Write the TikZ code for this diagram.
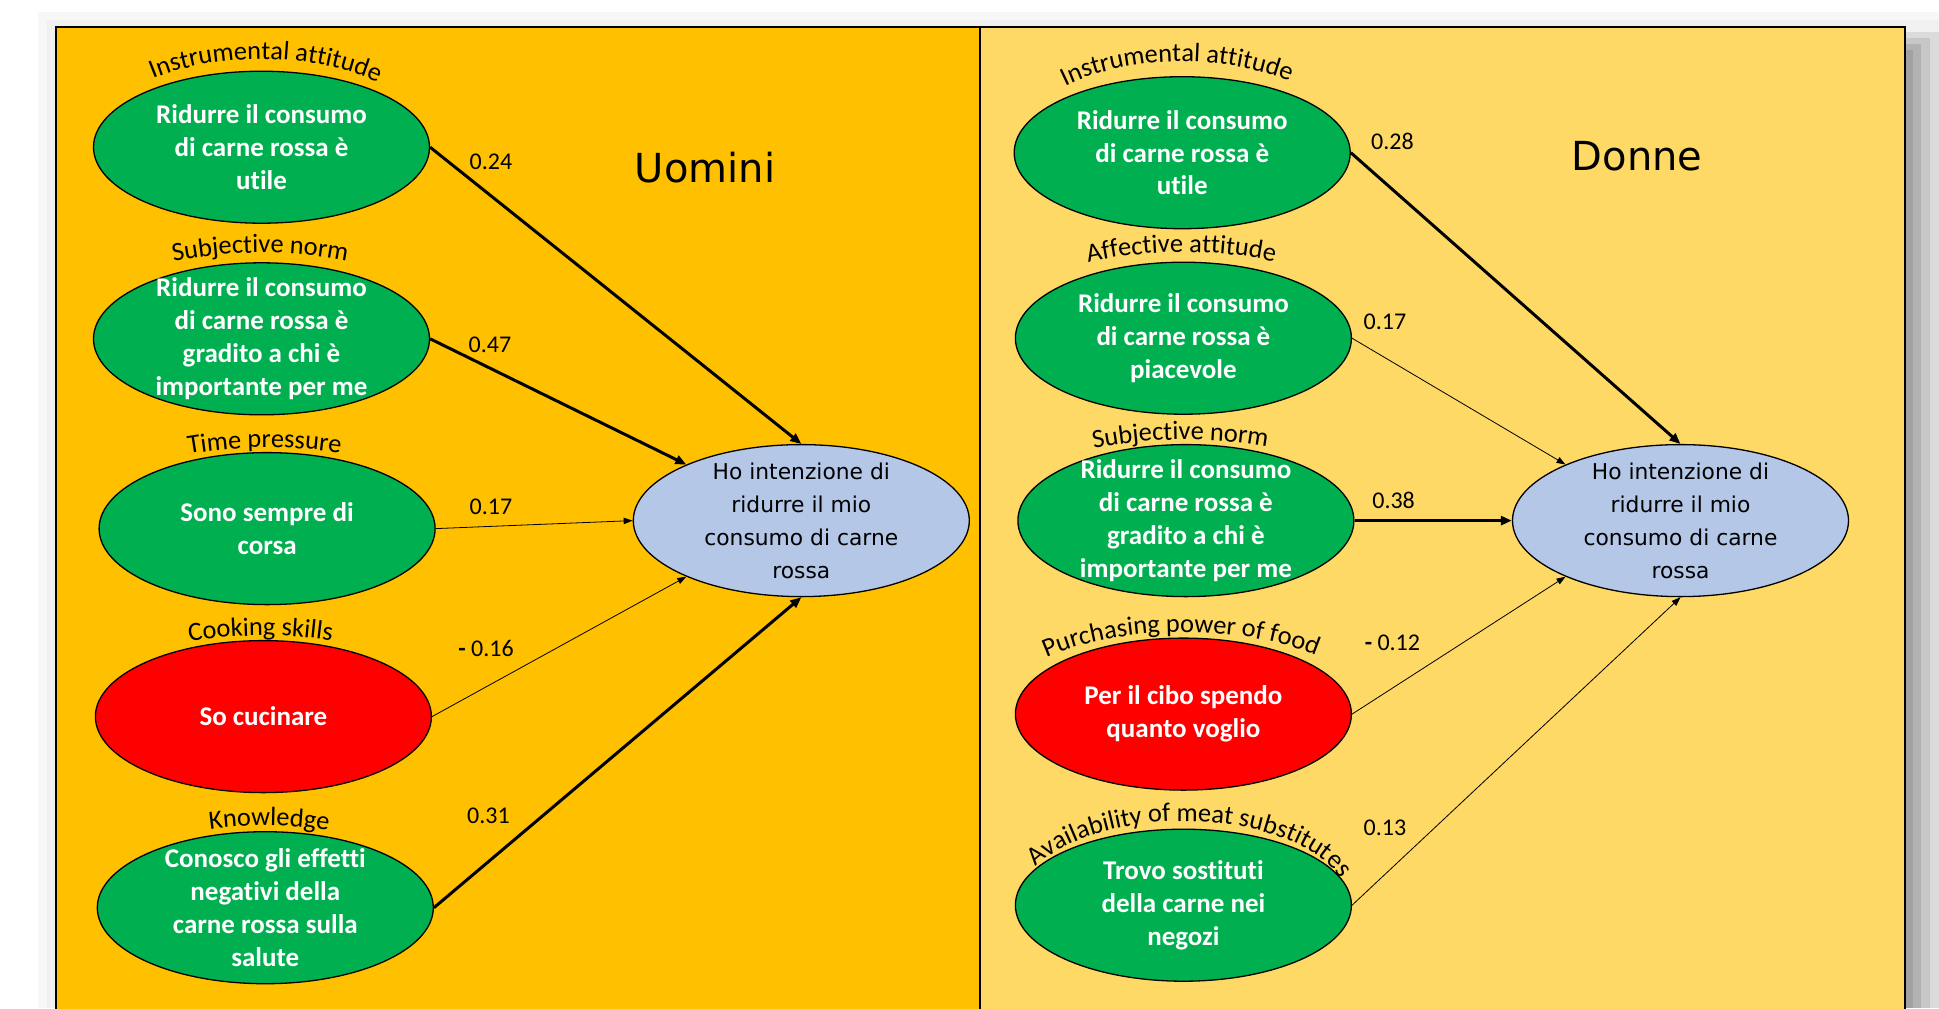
\documentclass[tikz,border=0pt]{standalone}
\usepackage{fontspec}
\setmainfont{Carlito}[Ligatures=NoCommon]
\newfontfamily\dvs{DejaVu Sans}
\usetikzlibrary{shapes.geometric,arrows.meta,decorations.text}
\definecolor{panelL}{HTML}{FFC000}
\definecolor{panelR}{HTML}{FFD966}
\definecolor{gfill}{HTML}{00B050}
\definecolor{rfill}{HTML}{FF0000}
\definecolor{bfill}{HTML}{B4C7E7}
\newcommand\labf{\fontsize{13.2}{15}\selectfont}
\newcommand\curvlab[6]{\path[decorate,decoration={text along path,text align=center,text={|\labf|#6}}] (#1) ++(#4:#2 and #3) arc[start angle=#4,end angle=#5,x radius=#2,y radius=#3];}
\tikzset{
  ell/.style={ellipse, draw=black, line width=0.65pt, minimum width=168pt, minimum height=76pt, inner sep=0pt},
  gell/.style={ell, fill=gfill},
  rell/.style={ell, fill=rfill},
  bell/.style={ell, fill=bfill},
  wtxt/.style={text=white, font=\bfseries\fontsize{13.5}{16.4}\selectfont, align=center, inner sep=0pt},
  btxt/.style={text=black, font=\dvs\fontsize{10.9}{16.5}\selectfont, align=center, inner sep=0pt},
  coef/.style={font=\fontsize{12}{14}\selectfont, inner sep=0pt},
  ttl/.style={font=\dvs\fontsize{20}{24}\selectfont, inner sep=0pt},
  thk/.style={line width=1.5pt, -{Triangle[length=5.5pt,width=4.5pt]}},
  thn/.style={line width=0.4pt, -{Triangle[length=4.5pt,width=3.2pt]}}
}
\begin{document}
\begin{tikzpicture}[x=0.5pt,y=0.5pt]
\useasboundingbox (0,0) rectangle (1939,-1008);
\clip (0,0) rectangle (1939,-1008);
% background and shadow
\fill[white] (0,0) rectangle (1939,-1008);
\fill[black!3] (38,-12) rectangle (1939,-1008);
\fill[black!6] (47,-20) rectangle (1939,-1008);
\fill[black!14] (1905,-32) rectangle (1939,-1008);
\fill[black!22] (1905,-38) rectangle (1930,-1008);
\fill[black!30] (1905,-44) rectangle (1921,-1008);
\fill[black!37] (1905,-50) rectangle (1913,-1008);
% panels
\fill[panelL] (55.6,-27) rectangle (980,-1020);
\fill[panelR] (980,-27) rectangle (1905,-1020);
\draw[line width=1pt] (55.6,-1020) -- (55.6,-27) -- (1905,-27) -- (1905,-1020);
\draw[line width=1pt] (980,-27) -- (980,-1020);
% titles
\node[ttl] (tu) at (705,-168) {Uomini};
\node[ttl] (td) at (1637,-156) {Donne};
% Uomini ellipses
\node[gell] (l1) at (261.5,-147.2) {};
\node[wtxt] (l1t) at (l1.center) {Ridurre il consumo\\di carne rossa è\\utile};
\node[gell] (l2) at (261.5,-338.8) {};
\node[wtxt] (l2t) at (l2.center) {Ridurre il consumo\\di carne rossa è\\gradito a chi è\\importante per me};
\node[gell] (l3) at (267.1,-528.6) {};
\node[wtxt] (l3t) at (l3.center) {Sono sempre di\\corsa};
\node[rell] (l4) at (263.4,-716.6) {};
\node[wtxt] (l4t) at (l4.center) {So cucinare};
\node[gell] (l5) at (265.3,-907.7) {};
\node[wtxt] (l5t) at (l5.center) {Conosco gli effetti\\negativi della\\carne rossa sulla\\salute};
\node[bell] (bl) at (801.3,-520.6) {};
\node[btxt] (blt) at (bl.center) {Ho intenzione di\\ridurre il mio\\consumo di carne\\rossa};
% Donne ellipses
\node[gell] (r1) at (1182.2,-152.7) {};
\node[wtxt] (r1t) at (r1.center) {Ridurre il consumo\\di carne rossa è\\utile};
\node[gell] (r2) at (1183.4,-338.2) {};
\node[wtxt] (r2t) at (r2.center) {Ridurre il consumo\\di carne rossa è\\piacevole};
\node[gell] (r3) at (1185.9,-520.6) {};
\node[wtxt] (r3t) at (r3.center) {Ridurre il consumo\\di carne rossa è\\gradito a chi è\\importante per me};
\node[rell] (r4) at (1183.4,-714.1) {};
\node[wtxt] (r4t) at (r4.center) {Per il cibo spendo\\quanto voglio};
\node[gell] (r5) at (1183.4,-905.2) {};
\node[wtxt] (r5t) at (r5.center) {Trovo sostituti\\della carne nei\\negozi};
\node[bell] (br) at (1680.5,-520.6) {};
\node[btxt] (brt) at (br.center) {Ho intenzione di\\ridurre il mio\\consumo di carne\\rossa};
% curved labels
\curvlab{l1.center}{172}{88}{167.4}{7.4}{Instrumental attitude}
\curvlab{l2.center}{200}{86}{170.8}{10.8}{Subjective norm}
\curvlab{l3.center}{200}{81}{171.6}{11.6}{Time pressure}
\curvlab{l4.center}{200}{81}{171.8}{11.8}{Cooking skills}
\curvlab{l5.center}{185}{82}{167.4}{7.4}{Knowledge}
\curvlab{r1.center}{172}{91}{173.3}{13.3}{Instrumental attitude}
\curvlab{r2.center}{200}{86}{171.3}{11.3}{Affective attitude}
\curvlab{r3.center}{200}{81}{173.6}{13.6}{Subjective norm}
\curvlab{r4.center}{190}{82}{171.6}{11.6}{Purchasing power of food}
\curvlab{r5.center}{166}{84}{181}{-11}{Availability of meat substitutes}
% connectors Uomini
\draw[thk] (l1.east) -- (bl.north);
\draw[thk] (l2.east) -- (bl.154);
\draw[thn] (l3.east) -- (bl.west);
\draw[thn] (l4.east) -- (bl.206);
\draw[thk] (l5.east) -- (bl.south);
% connectors Donne
\draw[thk] (r1.east) -- (br.north);
\draw[thn] (r2.east) -- (br.154);
\draw[thk] (r3.east) -- (br.west);
\draw[thn] (r4.east) -- (br.206);
\draw[thn] (r5.east) -- (br.south);
% coefficients
\node[coef] (c1) at (491,-162) {0.24};
\node[coef] (c2) at (490,-345) {0.47};
\node[coef] (c3) at (491,-507) {0.17};
\node[coef] (c4) at (486,-648) {\textbf{-} 0.16};
\node[coef] (c5) at (488.5,-816) {0.31};
\node[coef] (c6) at (1392.4,-141) {0.28};
\node[coef] (c7) at (1385,-321.5) {0.17};
\node[coef] (c8) at (1393.6,-500.8) {0.38};
\node[coef] (c9) at (1392.4,-643) {\textbf{-} 0.12};
\node[coef] (c10) at (1385,-827.3) {0.13};
\end{tikzpicture}
\end{document}
